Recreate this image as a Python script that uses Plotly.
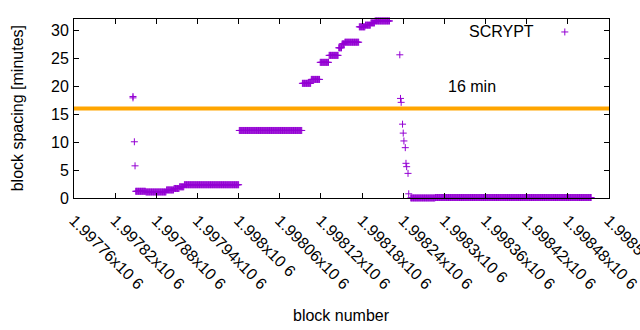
import plotly.graph_objects as go

# ---- data ----
# runs of consecutive blocks sharing (approximately) the same spacing
run_start = [1997850, 1997865, 1997895, 1997906, 1997914, 1997921, 1998001,
             1998093, 1998106, 1998119, 1998132, 1998146, 1998151, 1998155,
             1998176, 1998185, 1998193, 1998199, 1998251, 1998287]
run_end = [1997864, 1997894, 1997905, 1997913, 1997920, 1998000, 1998092,
           1998105, 1998118, 1998131, 1998145, 1998150, 1998154, 1998175,
           1998184, 1998192, 1998198, 1998220, 1998286, 1998514]
run_value = [1.2, 1.08, 1.44, 1.7, 2.0, 2.37, 12.07,
             20.5, 21.2, 24.25, 25.5, 26.85, 27.55, 27.85,
             30.6, 30.9, 31.3, 31.65, 0.01, 0.09]

# isolated blocks
single_block = [1997846, 1997846, 1997848, 1997849,
                1998235, 1998236, 1998237, 1998239, 1998240, 1998241,
                1998243, 1998244, 1998245, 1998247, 1998248]
single_value = [18.15, 17.9, 10.05, 5.75,
                25.6, 17.8, 17.1, 13.2, 11.6, 10.2,
                9.0, 6.2, 5.6, 4.4, 0.75]

threshold = 16
threshold_label = "16 min"
series_name = "SCRYPT"

x_ticks = [1997760, 1997820, 1997880, 1997940, 1998000, 1998060, 1998120,
           1998180, 1998240, 1998300, 1998360, 1998420, 1998480, 1998540]
x_tick_labels = ["1.99776x10 6", "1.99782x10 6", "1.99788x10 6", "1.99794x10 6",
                 "1.998x10 6", "1.99806x10 6", "1.99812x10 6", "1.99818x10 6",
                 "1.99824x10 6", "1.9983x10 6", "1.99836x10 6", "1.99842x10 6",
                 "1.99848x10 6", "1.99854x10 6"]
y_ticks = [0, 5, 10, 15, 20, 25, 30]

# ---- expand runs into one point per block ----
blocks, values = [], []
for s, e, v in zip(run_start, run_end, run_value):
    for b in range(s, e + 1):
        blocks.append(b)
        values.append(v)
blocks += single_block
values += single_value

PURPLE = "#9400D3"
FONT = "Liberation Sans, Arial, sans-serif"

fig = go.Figure()
fig.add_trace(go.Scatter(
    x=blocks, y=values, mode="markers", name=" ",
    cliponaxis=False, showlegend=True,
    marker=dict(symbol="cross-thin", size=5, color=PURPLE,
                line=dict(color=PURPLE, width=1)),
))
fig.add_hline(y=threshold, line=dict(color="#FFA500", width=4))

axis_common = dict(showgrid=False, zeroline=False, showline=True, linecolor="black",
                   linewidth=1, mirror="ticks", ticks="inside", ticklen=5,
                   tickcolor="black", ticklabeloverflow="allow", automargin=False,
                   tickfont=dict(family=FONT, size=16, color="black"))
fig.update_xaxes(range=[x_ticks[0], x_ticks[-1]], tickvals=x_ticks,
                 ticktext=x_tick_labels, tickangle=45, ticklabelstandoff=6,
                 **axis_common)
fig.update_yaxes(range=[0, 32], tickvals=y_ticks, ticklabelstandoff=1, **axis_common)

fig.add_annotation(text=series_name, xref="paper", yref="paper", x=0.8635, y=0.929,
                   xanchor="right", yanchor="middle", showarrow=False,
                   font=dict(family=FONT, size=16, color="black"))
fig.add_annotation(text=threshold_label, xref="paper", yref="paper", x=0.696, y=0.625,
                   xanchor="left", yanchor="middle", showarrow=False,
                   font=dict(family=FONT, size=16, color="black"))
fig.add_annotation(text="block number", xref="paper", yref="paper", x=0.5, y=-0.658,
                   xanchor="center", yanchor="middle", showarrow=False,
                   font=dict(family=FONT, size=16, color="black"))
fig.add_annotation(text="block spacing [minutes]", xref="paper", yref="paper",
                   x=-0.105, y=0.5, textangle=-90, xanchor="center", yanchor="middle",
                   showarrow=False, font=dict(family=FONT, size=16, color="black"))

fig.update_layout(
    width=640, height=330,
    margin=dict(l=74, r=31, t=19, b=132, autoexpand=False),
    plot_bgcolor="white", paper_bgcolor="white",
    showlegend=True,
    legend=dict(x=0.88, y=0.927, xanchor="left", yanchor="middle",
                bgcolor="rgba(0,0,0,0)", font=dict(family=FONT, size=16)),
)
fig.write_html("out.html")
